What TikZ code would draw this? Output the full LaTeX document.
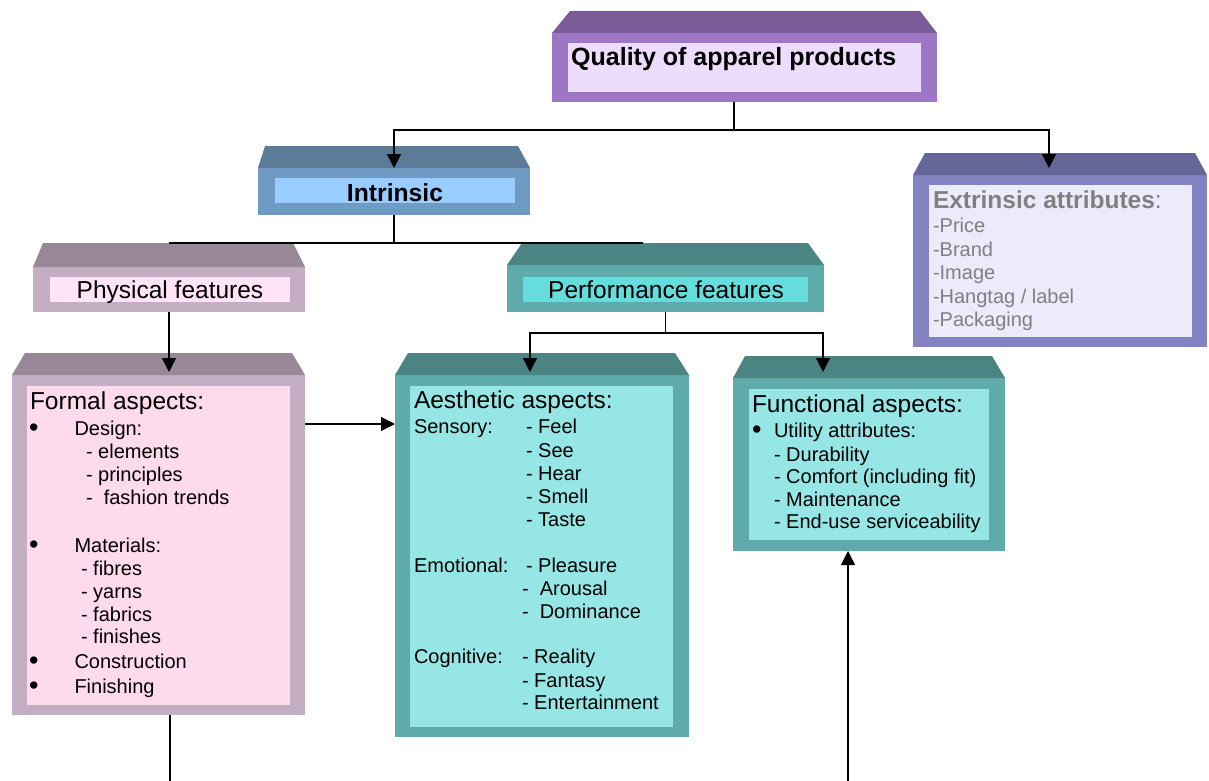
\documentclass[tikz,border=0pt]{standalone}
\usepackage{fontspec}
\setmainfont{Liberation Sans}
\usetikzlibrary{fit,arrows.meta}
\definecolor{qtopc}{HTML}{7A5C98}\definecolor{qfrc}{HTML}{9E76C6}\definecolor{qinc}{HTML}{EEDCFD}
\definecolor{itopc}{HTML}{5B7B99}\definecolor{ifrc}{HTML}{6F9AC4}\definecolor{iinc}{HTML}{99CCFF}
\definecolor{etopc}{HTML}{656598}\definecolor{efrc}{HTML}{8383C4}\definecolor{einc}{HTML}{EBEBFB}
\definecolor{ptopc}{HTML}{978797}\definecolor{pfrc}{HTML}{C4AEC4}\definecolor{physinc}{HTML}{FFE4F7}\definecolor{forminc}{HTML}{FDDAEC}
\definecolor{ttopc}{HTML}{4C8484}\definecolor{tfrc}{HTML}{5FAAAA}\definecolor{tinc}{HTML}{66DDDD}\definecolor{ainc}{HTML}{96E6E6}
\definecolor{greytxt}{HTML}{808080}
\tikzset{
  framebox/.style={inner sep=0pt,outer sep=0pt,rectangle},
  conn/.style={line width=1.3pt,black},
  arr/.style={conn,-{Triangle[length=14pt,width=14pt]}},
  hd/.style={anchor=base west,inner sep=0pt,outer sep=0pt,font=\fontsize{24.5}{28}\selectfont},
  hdc/.style={anchor=base,inner sep=0pt,outer sep=0pt,font=\fontsize{24.5}{28}\selectfont},
  bd/.style={anchor=base west,inner sep=0pt,outer sep=0pt,font=\fontsize{20}{23}\selectfont},
  bul/.style={anchor=base west,inner sep=0pt,outer sep=0pt,font=\fontsize{27}{30}\selectfont},
}
\begin{document}
\begin{tikzpicture}[x=1pt,y=-1pt]
\useasboundingbox (0,0) rectangle (1209,781);
% Quality
\node[framebox,fit={(552,33)(937,102)},fill=qfrc] (q) {};
\fill[qtopc] (q.north west) -- (570,11) -- (920,11) -- (q.north east) -- cycle;
\fill[qinc] (568,43) rectangle (921,92);
% Intrinsic
\node[framebox,fit={(258,168)(530,215)},fill=ifrc] (intr) {};
\fill[itopc] (intr.north west) -- (265,146) -- (518,146) -- (intr.north east) -- cycle;
\fill[iinc] (275,178) rectangle (515,203);
% Extrinsic
\node[framebox,fit={(913,175)(1207,347)},fill=efrc] (ext) {};
\fill[etopc] (ext.north west) -- (925,153) -- (1195,153) -- (ext.north east) -- cycle;
\fill[einc] (929,185) rectangle (1192,337);
% Physical
\node[framebox,fit={(33,267)(305,312)},fill=pfrc] (phys) {};
\fill[ptopc] (phys.north west) -- (43,243) -- (293,243) -- (phys.north east) -- cycle;
\fill[physinc] (50,277) rectangle (290,302);
% Performance
\node[framebox,fit={(507,265)(824,312)},fill=tfrc] (perf) {};
\fill[ttopc] (perf.north west) -- (522,243) -- (808,243) -- (perf.north east) -- cycle;
\fill[tinc] (523,277) rectangle (808,302);
% Formal
\node[framebox,fit={(12,375)(305,715)},fill=pfrc] (form) {};
\fill[ptopc] (form.north west) -- (25,353) -- (292,353) -- (form.north east) -- cycle;
\fill[forminc] (27,386) rectangle (290,705);
% Aesthetic
\node[framebox,fit={(395,375)(689,737)},fill=tfrc] (aest) {};
\fill[ttopc] (aest.north west) -- (408,353) -- (675,353) -- (aest.north east) -- cycle;
\fill[ainc] (410,386) rectangle (673,727);
% Functional
\node[framebox,fit={(733,378)(1005,551)},fill=tfrc] (func) {};
\fill[ttopc] (func.north west) -- (745,356) -- (992,356) -- (func.north east) -- cycle;
\fill[ainc] (749,389) rectangle (989,540);
% connectors
\draw[arr] ([xshift=-10.5pt]q.south) -- ++(0,28) -| (intr.north);
\draw[arr] ([xshift=-10.5pt]q.south) -- ++(0,28) -| ([xshift=-11pt,yshift=7pt]ext.north);
\draw[conn] (intr.south) -- ++(0,28) coordinate (j2);
\draw[conn] (j2 -| phys.north) -- ([xshift=249pt]j2);
\draw[arr] (phys.south) -- ([yshift=3pt]phys.south |- form.north);
\draw[arr] ([yshift=-49pt]form.north east) coordinate (t1) -- (t1 -| aest.west);
\coordinate (bot1) at (170,781);
\draw[conn] ([xshift=11.5pt]form.south) -- (bot1);
\draw[arr] (perf.south) -- ++(0,21) -| ([xshift=-12pt,yshift=3pt]aest.north);
\draw[arr] (perf.south) -- ++(0,21) -| ([xshift=-46pt,yshift=6pt]func.north);
\coordinate (bot2) at (848,781);
\draw[arr] (bot2) -- (bot2 |- func.south);
% texts
\node[anchor=base west,inner sep=0pt,font=\bfseries\fontsize{25}{30}\selectfont] (tq) at (571,66) {Quality of apparel products};
\node[anchor=base,inner sep=0pt,font=\bfseries\fontsize{24.7}{30}\selectfont] (ti) at (395,201) {Intrinsic};
\node[hdc] (tph) at (170,298) {Physical features};
\node[hdc] (tpf) at (666,298) {Performance features};
% extrinsic
\node[hd,text=greytxt] (te) at (933,208) {\textbf{Extrinsic attributes}:};
\node[bd,text=greytxt] (te1) at (933,232) {-Price};
\node[bd,text=greytxt] (te2) at (933,256) {-Brand};
\node[bd,text=greytxt] (te3) at (933,279) {-Image};
\node[bd,text=greytxt] (te4) at (933,303) {-Hangtag / label};
\node[bd,text=greytxt] (te5) at (933,326) {-Packaging};
% formal
\node[hd] (tf) at (30,409) {Formal aspects:};
\node[bul] (fb1) at (29,436) {•};
\node[bd] (f1) at (74.5,435) {Design:};
\node[bd] (f2) at (86,458) {- elements};
\node[bd] (f3) at (86,481) {- principles};
\node[bd] (f4) at (86,504) {- \ fashion trends};
\node[bul] (fb2) at (29,553) {•};
\node[bd] (f5) at (74.5,552) {Materials:};
\node[bd] (f6) at (81,575) {- fibres};
\node[bd] (f7) at (81,598) {- yarns};
\node[bd] (f8) at (81,621) {- fabrics};
\node[bd] (f9) at (81,643) {- finishes};
\node[bul] (fb3) at (29,669) {•};
\node[bd] (f10) at (74.5,668) {Construction};
\node[bul] (fb4) at (29,694) {•};
\node[bd] (f11) at (74.5,693) {Finishing};
% aesthetic
\node[hd] (ta) at (414,408) {Aesthetic aspects:};
\node[bd] (a1) at (414,433) {Sensory:};
\node[bd] (a2) at (526,433) {- Feel};
\node[bd] (a3) at (526,457) {- See};
\node[bd] (a4) at (526,480) {- Hear};
\node[bd] (a5) at (526,503) {- Smell};
\node[bd] (a6) at (526,526) {- Taste};
\node[bd] (a7) at (414,572) {Emotional:};
\node[bd] (a8) at (526,572) {- Pleasure};
\node[bd] (a9) at (522,595) {- \ Arousal};
\node[bd] (a10) at (522,618) {- \ Dominance};
\node[bd] (a11) at (414,663) {Cognitive:};
\node[bd] (a12) at (522,663) {- Reality};
\node[bd] (a13) at (522,687) {- Fantasy};
\node[bd] (a14) at (522,709) {- Entertainment};
% functional
\node[hd] (tu) at (752,412) {Functional aspects:};
\node[bul] (ub) at (752,438) {•};
\node[bd] (u1) at (774,437) {Utility attributes:};
\node[bd] (u2) at (774,461) {- Durability};
\node[bd] (u3) at (774,483) {- Comfort (including fit)};
\node[bd] (u4) at (774,506) {- Maintenance};
\node[bd] (u5) at (774,528) {- End-use serviceability};
\end{tikzpicture}
\end{document}
